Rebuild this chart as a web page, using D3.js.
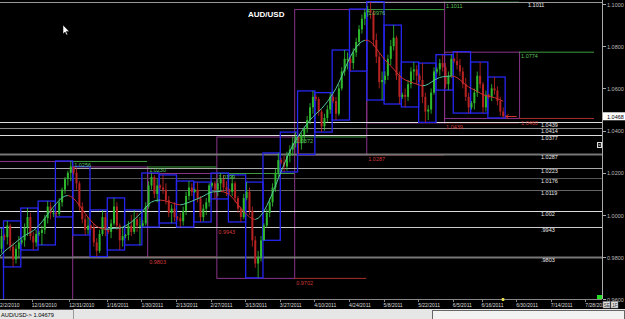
<!DOCTYPE html>
<html>
<head>
<meta charset="utf-8">
<script src="https://cdn.jsdelivr.net/npm/d3@7"></script>
<style>
  html, body { margin: 0; padding: 0; background: #000; overflow: hidden; }
  svg { display: block; font-family: "Liberation Sans", Arial, sans-serif; }
</style>
</head>
<body>
<div id="chart"></div>
<script>
// AUD/USD daily bars (Sunday bar + Mon..Fri), week of 11/28/2010 to week of 6/19/2011
const firstBar = -6;       // bar index of the first entry (bar 0 = Sunday 12/5/2010)
const firstOpen = 0.9610;

const highs = [
  .9640, .9680, .9690, .9760, .9860, .9938,
  .9910, .9972, .9960, .9870, .9860, .9900,
  .9890, .9960, 1.0033, 1.0010, .9920, .9930,
  .9925, .9950, 1.0000, 1.0066, 1.0060, 1.0030,
  1.0020, 1.0080, 1.0130, 1.0180, 1.0210, 1.0256,
  1.0215, 1.0222, 1.0160, 1.0060, 1.0000, .9990,
  .9955, .9960, .9890, .9930, 1.0024, 1.0010,
  .9935, .9980, 1.0081, 1.0060, .9960, .9940,
  .9910, .9970, 1.0000, 1.0024, 1.0010, .9990,
  .9975, 1.0060, 1.0160, 1.0199, 1.0190, 1.0170,
  1.0145, 1.0190, 1.0150, 1.0090, 1.0050, 1.0060,
  .9995, 1.0010, 1.0040, 1.0110, 1.0161, 1.0150,
  1.0125, 1.0156, 1.0090, 1.0050, 1.0080, 1.0150,
  1.0155, 1.0160, 1.0170, 1.0199, 1.0190, 1.0160,
  1.0125, 1.0190, 1.0160, 1.0090, 1.0040, 1.0100,
  1.0156, 1.0130, 1.0040, .9900, .9830, .9900,
  .9960, 1.0030, 1.0080, 1.0150, 1.0220, 1.0294,
  1.0270, 1.0280, 1.0300, 1.0330, 1.0372, 1.0393,
  1.0380, 1.0390, 1.0420, 1.0470, 1.0530, 1.0588,
  1.0570, 1.0560, 1.0500, 1.0480, 1.0520, 1.0580,
  1.0570, 1.0560, 1.0620, 1.0700, 1.0782, 1.0770,
  1.0750, 1.0790, 1.0840, 1.0900, 1.0950, 1.0976,
  1.0990, 1.1011, 1.0970, 1.0860, 1.0770, 1.0680,
  1.0680, 1.0760, 1.0830, 1.0900, 1.0850, 1.0680,
  1.0580, 1.0600, 1.0640, 1.0700, 1.0725, 1.0710,
  1.0670, 1.0720, 1.0580, 1.0520, 1.0600, 1.0700,
  1.0700, 1.0740, 1.0760, 1.0720, 1.0680, 1.0760,
  1.0745, 1.0774, 1.0740, 1.0700, 1.0650, 1.0580,
  1.0540, 1.0600, 1.0680, 1.0725, 1.0630, 1.0590,
  1.0575, 1.0620, 1.0654, 1.0610, 1.0560, 1.0510
];
const lows = [
  .9600, .9597, .9590, .9595, .9720, .9820,
  .9880, .9860, .9830, .9754, .9770, .9800,
  .9860, .9850, .9900, .9880, .9834, .9850,
  .9900, .9858, .9910, .9960, .9980, .9990,
  .9991, .9995, 1.0040, 1.0100, 1.0140, 1.0160,
  1.0190, 1.0120, 1.0020, .9960, .9905, .9910,
  .9930, .9850, .9803, .9820, .9900, .9900,
  .9910, .9890, .9950, .9930, .9834, .9850,
  .9890, .9880, .9900, .9910, .9920, .9858,
  .9943, .9950, 1.0030, 1.0120, 1.0080, 1.0060,
  1.0120, 1.0100, 1.0050, .9990, .9962, .9970,
  .9975, .9943, .9950, 1.0000, 1.0070, 1.0090,
  1.0105, 1.0060, .9967, .9970, 1.0000, 1.0040,
  1.0130, 1.0076, 1.0090, 1.0110, 1.0110, 1.0090,
  1.0100, 1.0090, 1.0060, 1.0010, .9967, .9980,
  1.0070, 1.0000, .9850, .9750, .9702, .9780,
  .9938, .9940, .9990, 1.0040, 1.0110, 1.0180,
  1.0240, 1.0204, 1.0210, 1.0250, 1.0280, 1.0320,
  1.0287, 1.0310, 1.0340, 1.0390, 1.0430, 1.0480,
  1.0540, 1.0470, 1.0393, 1.0400, 1.0440, 1.0480,
  1.0530, 1.0450, 1.0470, 1.0590, 1.0660, 1.0690,
  1.0682, 1.0690, 1.0750, 1.0800, 1.0860, 1.0900,
  1.0940, 1.0930, 1.0800, 1.0720, 1.0600, 1.0545,
  1.0620, 1.0640, 1.0710, 1.0780, 1.0640, 1.0526,
  1.0550, 1.0512, 1.0540, 1.0600, 1.0640, 1.0620,
  1.0630, 1.0530, 1.0439, 1.0450, 1.0480, 1.0570,
  1.0670, 1.0660, 1.0680, 1.0600, 1.0592, 1.0650,
  1.0720, 1.0690, 1.0660, 1.0600, 1.0540, 1.0483,
  1.0500, 1.0500, 1.0560, 1.0600, 1.0483, 1.0490,
  1.0550, 1.0540, 1.0570, 1.0520, 1.0470, 1.0460
];
const closes = [
  .9620, .9640, .9610, .9740, .9840, .9900,
  .9895, .9950, .9850, .9790, .9840, .9870,
  .9880, .9940, .9990, .9900, .9870, .9910,
  .9915, .9930, .9985, 1.0040, 1.0010, 1.0010,
  1.0005, 1.0060, 1.0120, 1.0170, 1.0200, 1.0230,
  1.0200, 1.0150, 1.0040, .9980, .9930, .9950,
  .9940, .9870, .9830, .9910, .9990, .9930,
  .9920, .9960, 1.0040, .9950, .9880, .9900,
  .9905, .9950, .9920, .9980, .9950, .9950,
  .9960, 1.0040, 1.0140, 1.0180, 1.0100, 1.0140,
  1.0130, 1.0120, 1.0070, 1.0010, 1.0030, .9990,
  .9985, .9970, 1.0020, 1.0090, 1.0130, 1.0110,
  1.0120, 1.0080, .9990, 1.0030, 1.0060, 1.0140,
  1.0150, 1.0120, 1.0150, 1.0170, 1.0130, 1.0120,
  1.0110, 1.0150, 1.0080, 1.0030, .9990, 1.0080,
  1.0110, 1.0020, .9880, .9770, .9800, .9880,
  .9950, 1.0010, 1.0060, 1.0130, 1.0200, 1.0260,
  1.0250, 1.0230, 1.0280, 1.0310, 1.0340, 1.0370,
  1.0340, 1.0380, 1.0410, 1.0450, 1.0510, 1.0560,
  1.0550, 1.0490, 1.0420, 1.0460, 1.0500, 1.0560,
  1.0540, 1.0480, 1.0600, 1.0680, 1.0740, 1.0740,
  1.0720, 1.0770, 1.0820, 1.0880, 1.0930, 1.0960,
  1.0970, 1.0960, 1.0830, 1.0750, 1.0630, 1.0640,
  1.0660, 1.0740, 1.0800, 1.0840, 1.0660, 1.0560,
  1.0570, 1.0560, 1.0620, 1.0680, 1.0690, 1.0660,
  1.0640, 1.0560, 1.0490, 1.0500, 1.0580, 1.0680,
  1.0690, 1.0720, 1.0700, 1.0620, 1.0660, 1.0740,
  1.0730, 1.0710, 1.0680, 1.0620, 1.0560, 1.0510,
  1.0530, 1.0580, 1.0660, 1.0620, 1.0510, 1.0570,
  1.0560, 1.0600, 1.0590, 1.0540, 1.0490, 1.0468
];

// bar index where each month begins: Dec, Jan, Feb, Mar, Apr, May, Jun, Jul, Aug
const monthStarts = [-3, 24, 50, 74, 101, 126, 153, 179, 205];

// horizontal support / resistance levels
const levels = [1.1011, 1.0439, 1.0414, 1.0377, 1.0287, 1.0223, 1.0176, 1.0119, 1.002, 0.9943, 0.9803];
const levelLabels = ["1.1011", "1.0439", "1.0414", "1.0377", "1.0287", "1.0223", "1.0176", "1.0119", "1.002", ".9943", ".9803"];

const priceTicks = [0.96, 0.98, 1.00, 1.02, 1.04, 1.06, 1.08, 1.10];
const dateTickBars = [-2, 10, 23, 36, 48, 60, 72, 84, 96, 108, 120, 132, 144, 156, 166, 178, 190, 202];
const dateTickLabels = ["12/2/2010", "12/16/2010", "12/31/2010", "1/16/2011", "1/30/2011", "2/13/2011",
  "2/27/2011", "3/13/2011", "3/27/2011", "4/10/2011", "4/24/2011", "5/8/2011", "5/22/2011",
  "6/5/2011", "6/16/2011", "6/30/2011", "7/14/2011", "7/28/2011"];
const lastPrice = 1.04679;

// ---------------------------------------------------------------
const width = 625, height = 319;
const plotW = 602, plotH = 299;

const x = d3.scaleLinear().domain([0, 200]).range([3, 3 + 200 * 2.883]);
const y = d3.scaleLinear().domain([0.96, 1.10]).range([299.4, 4]);
const barW = x(1) - x(0);

// build bars (open = previous close)
const bars = closes.map(function (c, j) {
  const o = j ? closes[j - 1] : firstOpen;
  return {
    i: j + firstBar,
    o: o, c: c,
    h: Math.max(highs[j], o, c),
    l: Math.min(lows[j], o, c)
  };
});

// weekly ranges (6 bars per week)
const weeks = Array.from(d3.group(bars, function (d) { return Math.floor(d.i / 6); }),
  function ([k, v]) {
    return { k: k, h: d3.max(v, function (d) { return d.h; }), l: d3.min(v, function (d) { return d.l; }) };
  });

// monthly ranges
const months = [];
for (let m = 0; m < monthStarts.length - 2; m++) {
  const v = bars.filter(function (d) { return d.i >= monthStarts[m] && d.i < monthStarts[m + 1]; });
  months.push({
    s: monthStarts[m], e: monthStarts[m + 1], n: monthStarts[m + 2],
    h: d3.max(v, function (d) { return d.h; }), l: d3.min(v, function (d) { return d.l; })
  });
}

// centered triangular average of the closes
const half = 9;
const tma = bars.map(function (d, j) {
  let s = 0, w = 0;
  for (let k = -half; k <= half; k++) {
    if (j + k < 0 || j + k >= bars.length) continue;
    const wk = half + 1 - Math.abs(k);
    s += wk * closes[j + k]; w += wk;
  }
  return { i: d.i, v: s / w };
});

const svg = d3.select("#chart").append("svg")
  .attr("width", width)
  .attr("height", height);

svg.append("rect").attr("width", width).attr("height", height).attr("fill", "#000");

svg.append("defs").append("clipPath").attr("id", "plotclip")
  .append("rect").attr("width", plotW).attr("height", plotH);

const g = svg.append("g").attr("clip-path", "url(#plotclip)");

// month boxes
g.selectAll("rect.month")
  .data(months).enter().append("rect")
  .attr("class", "month")
  .attr("x", function (d) { return x(d.s) + 0.5; })
  .attr("y", function (d) { return y(d.h) + 0.5; })
  .attr("width", function (d) { return x(d.e) - x(d.s); })
  .attr("height", function (d) { return y(d.l) - y(d.h); })
  .attr("fill", "none")
  .attr("stroke", "#8a338a")
  .attr("stroke-width", 1);

// previous month high / low carried through the next month
g.selectAll("line.mhi")
  .data(months).enter().append("line")
  .attr("x1", function (d) { return x(d.e); })
  .attr("x2", function (d) { return x(d.n); })
  .attr("y1", function (d) { return y(d.h) + 0.5; })
  .attr("y2", function (d) { return y(d.h) + 0.5; })
  .attr("stroke", "#3f9a3f");
g.selectAll("line.mlo")
  .data(months).enter().append("line")
  .attr("x1", function (d) { return x(d.e); })
  .attr("x2", function (d) { return x(d.n); })
  .attr("y1", function (d) { return y(d.l) + 0.5; })
  .attr("y2", function (d) { return y(d.l) + 0.5; })
  .attr("stroke", "#a83030");

// full width levels
const levelColor = ["#999", "#ddd", "#888", "#ddd", "#777", "#aaa", "#555", "#666", "#ddd", "#ccc", "#777"];
const levelWidth = [1, 1, 1, 1, 2, 1, 1, 1, 1, 1, 2];
g.selectAll("line.level")
  .data(levels).enter().append("line")
  .attr("x1", 0).attr("x2", plotW)
  .attr("y1", function (d) { return Math.round(y(d)) + 0.5; })
  .attr("y2", function (d) { return Math.round(y(d)) + 0.5; })
  .attr("stroke", function (d, i) { return levelColor[i]; })
  .attr("stroke-width", function (d, i) { return levelWidth[i]; });

// weekly boxes
g.selectAll("rect.week")
  .data(weeks).enter().append("rect")
  .attr("x", function (d) { return x(d.k * 6) + 0.5; })
  .attr("y", function (d) { return y(d.h); })
  .attr("width", function (d) { return x(d.k * 6 + 6) - x(d.k * 6); })
  .attr("height", function (d) { return y(d.l) - y(d.h); })
  .attr("fill", "none")
  .attr("stroke", "#2626f0")
  .attr("stroke-width", 1.3);

// candles
const candle = g.selectAll("g.candle")
  .data(bars).enter().append("g");
candle.append("line")
  .attr("x1", function (d) { return x(d.i) + barW / 2; })
  .attr("x2", function (d) { return x(d.i) + barW / 2; })
  .attr("y1", function (d) { return y(d.h); })
  .attr("y2", function (d) { return y(d.l); })
  .attr("stroke", function (d) { return d.c >= d.o ? "#33c833" : "#c82626"; })
  .attr("stroke-width", 0.8);
candle.append("rect")
  .attr("x", function (d) { return x(d.i) + barW / 2 - 1; })
  .attr("y", function (d) { return y(Math.max(d.o, d.c)); })
  .attr("width", 2)
  .attr("height", function (d) { return Math.max(1, Math.abs(y(d.o) - y(d.c))); })
  .attr("fill", function (d) { return d.c >= d.o ? "#2eb82e" : "#b82222"; });

// smoothed curve, green while rising, red while falling
const segs = [];
for (let j = 1; j < tma.length; j++) segs.push([tma[j - 1], tma[j]]);
g.selectAll("line.tma")
  .data(segs).enter().append("line")
  .attr("x1", function (d) { return x(d[0].i) + barW / 2; })
  .attr("x2", function (d) { return x(d[1].i) + barW / 2; })
  .attr("y1", function (d) { return y(d[0].v); })
  .attr("y2", function (d) { return y(d[1].v); })
  .attr("stroke", function (d) { return d[1].v >= d[0].v ? "#55c4a0" : "#cc3030"; })
  .attr("stroke-width", 1);

// month labels
g.selectAll("text.mhi")
  .data(months).enter().append("text")
  .attr("x", function (d) { return x(d.e) + 2; })
  .attr("y", function (d) { return y(d.h) + 6; })
  .attr("fill", "#5cc05c")
  .attr("font-size", "5.5px")
  .text(function (d) { return d.h.toFixed(4); });
g.selectAll("text.mlo")
  .data(months).enter().append("text")
  .attr("x", function (d) { return x(d.e) + 2; })
  .attr("y", function (d) { return y(d.l) + 7; })
  .attr("fill", "#d03a3a")
  .attr("font-size", "5.5px")
  .text(function (d) { return d.l.toFixed(4); });

// level labels
g.selectAll("text.level")
  .data(levels).enter().append("text")
  .attr("x", function (d, i) { return i ? 541 : 528; })
  .attr("y", function (d) { return y(d) + 5; })
  .attr("fill", "#e8e8e8")
  .attr("font-size", "5.5px")
  .text(function (d, i) { return levelLabels[i]; });

// last price arrow
const lastY = Math.round(y(closes[closes.length - 1])) + 0.5;
const lastX = x(bars[bars.length - 1].i + 1);
g.append("path")
  .attr("d", "M" + (lastX + 12) + "," + lastY + "H" + (lastX + 1) +
    "M" + (lastX + 4) + "," + (lastY - 2) + "L" + (lastX + 1) + "," + lastY + "L" + (lastX + 4) + "," + (lastY + 2))
  .attr("stroke", "#d03030").attr("fill", "none");

// title
svg.append("text")
  .attr("x", 248).attr("y", 17)
  .attr("fill", "#fff")
  .attr("font-size", "8px")
  .attr("font-weight", "bold")
  .text("AUD/USD");

// mouse pointer
svg.append("path")
  .attr("d", "M63,25 v9 l2,-2 l1.5,3 l1.2,-0.6 l-1.5,-3 h3 z")
  .attr("fill", "#fff").attr("stroke", "#000").attr("stroke-width", 0.5);

// right price axis
svg.append("line")
  .attr("x1", plotW + 0.5).attr("x2", plotW + 0.5)
  .attr("y1", 0).attr("y2", plotH)
  .attr("stroke", "#aaa");
const yt = svg.append("g");
yt.selectAll("line").data(priceTicks).enter().append("line")
  .attr("x1", plotW + 1).attr("x2", plotW + 4)
  .attr("y1", function (d) { return Math.round(y(d)) + 0.5; })
  .attr("y2", function (d) { return Math.round(y(d)) + 0.5; })
  .attr("stroke", "#aaa");
yt.selectAll("text").data(priceTicks).enter().append("text")
  .attr("x", 607)
  .attr("y", function (d) { return y(d) + 2.5; })
  .attr("fill", "#bbb")
  .attr("font-size", "5.5px")
  .text(function (d) { return d.toFixed(4); });

// current price tag
svg.append("rect")
  .attr("x", 603).attr("y", y(lastPrice) - 4)
  .attr("width", 22).attr("height", 8)
  .attr("fill", "#fff");
svg.append("text")
  .attr("x", 607).attr("y", y(lastPrice) + 2.5)
  .attr("fill", "#000")
  .attr("font-size", "5.5px")
  .text(lastPrice.toFixed(4));

// small box icon on the axis
svg.append("rect").attr("x", 597.5).attr("y", 142.5).attr("width", 4).attr("height", 5)
  .attr("fill", "none").attr("stroke", "#ddd");
svg.append("path").attr("d", "M598,143.5 l3,3 M601,143.5 l-3,3")
  .attr("stroke", "#ddd").attr("stroke-width", 0.6);

// date axis
svg.append("line")
  .attr("x1", 0).attr("x2", plotW)
  .attr("y1", 299.5).attr("y2", 299.5)
  .attr("stroke", "#888");
const xt = svg.append("g");
xt.selectAll("line").data(dateTickBars).enter().append("line")
  .attr("x1", function (d) { return Math.round(x(d)) + 0.5; })
  .attr("x2", function (d) { return Math.round(x(d)) + 0.5; })
  .attr("y1", 299).attr("y2", 302)
  .attr("stroke", "#888");
xt.selectAll("text").data(dateTickBars).enter().append("text")
  .attr("x", function (d) { return x(d); })
  .attr("y", 307)
  .attr("fill", "#ddd")
  .attr("font-size", "5px")
  .text(function (d, i) { return dateTickLabels[i]; });

// last bar marker and corner widgets
svg.append("rect").attr("x", x(bars[bars.length - 1].i)).attr("y", 298)
  .attr("width", 2.5).attr("height", 3).attr("fill", "#e8e040");
svg.append("rect").attr("x", 597).attr("y", 295).attr("width", 5).attr("height", 4).attr("fill", "#22dd22");
svg.append("rect").attr("x", 603).attr("y", 301.5).attr("width", 7).attr("height", 6.5)
  .attr("fill", "#ddd").attr("stroke", "#888").attr("stroke-width", 0.5);
svg.append("rect").attr("x", 611).attr("y", 301.5).attr("width", 7).attr("height", 6.5)
  .attr("fill", "#ddd").attr("stroke", "#888").attr("stroke-width", 0.5);
svg.append("text").attr("x", 603.8).attr("y", 306.8).attr("font-size", "4.5px").attr("fill", "#333").text("SE");
svg.append("text").attr("x", 612.3).attr("y", 306.8).attr("font-size", "4.5px").attr("fill", "#333").text("1F");

// status bar
svg.append("rect").attr("x", 0).attr("y", 309).attr("width", width).attr("height", 10).attr("fill", "#e6e6e6");
svg.append("line").attr("x1", 0).attr("x2", 73).attr("y1", 309.5).attr("y2", 309.5).attr("stroke", "#555");
svg.append("line").attr("x1", 73.5).attr("x2", 73.5).attr("y1", 309).attr("y2", 319).attr("stroke", "#999");
svg.append("text")
  .attr("x", 1).attr("y", 316.5)
  .attr("fill", "#000")
  .attr("font-size", "5.7px")
  .text("AUD/USD-> " + lastPrice.toFixed(5));
svg.append("rect").attr("x", 432.5).attr("y", 310.5).attr("width", 192).attr("height", 10)
  .attr("fill", "#f2f2f2").attr("stroke", "#666");
</script>
</body>
</html>
